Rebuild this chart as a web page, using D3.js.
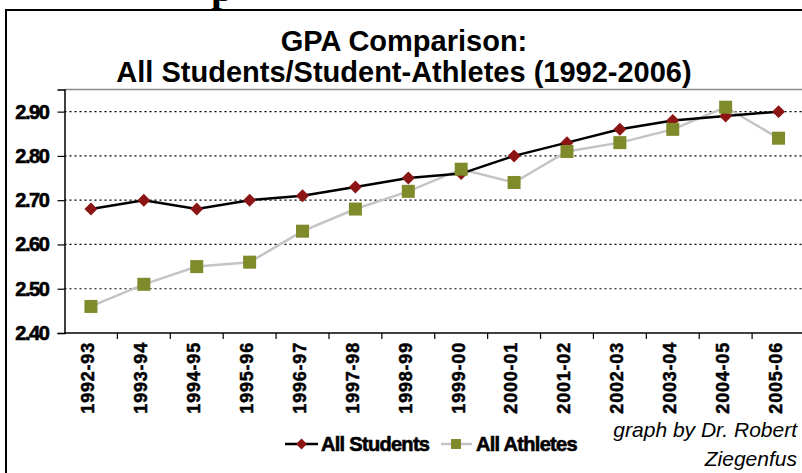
<!DOCTYPE html>
<html>
<head>
<meta charset="utf-8">
<script src="https://cdn.jsdelivr.net/npm/d3@7/dist/d3.min.js"></script>
<style>
  html, body { margin: 0; padding: 0; background: #fff; }
  svg { display: block; font-family: "Liberation Sans", Arial, sans-serif; }
</style>
</head>
<body>
<svg id="chart" width="802" height="473"></svg>
<script>
const categories = ["1992-93","1993-94","1994-95","1995-96","1996-97","1997-98","1998-99","1999-00","2000-01","2001-02","2002-03","2003-04","2004-05","2005-06"];
const allStudents = [2.68, 2.70, 2.68, 2.70, 2.71, 2.73, 2.75, 2.76, 2.80, 2.83, 2.86, 2.88, 2.89, 2.90];
const allAthletes = [2.46, 2.51, 2.55, 2.56, 2.63, 2.68, 2.72, 2.77, 2.74, 2.81, 2.83, 2.86, 2.91, 2.84];
const yTicks = [2.40, 2.50, 2.60, 2.70, 2.80, 2.90];
const titleLines = ["GPA Comparison:", "All Students/Student-Athletes (1992-2006)"];
const seriesNames = ["All Students", "All Athletes"];
const creditLines = ["graph by Dr. Robert", "Ziegenfus"];

(function () {
const svg = d3.select("#chart");

// page fragment above the frame
svg.append("text").attr("x", 211).attr("y", 1)
  .attr("font-family", "Liberation Serif, Times New Roman, serif")
  .attr("font-weight", "bold").attr("font-size", 40).text("p");

// outer frame
svg.append("rect").attr("x", 6).attr("y", 10).attr("width", 900).attr("height", 600)
  .attr("fill", "#fff").attr("stroke", "#000").attr("stroke-width", 2);

// title
svg.append("g").selectAll("text").data(titleLines).join("text")
  .attr("x", 404).attr("y", (d, i) => 51 + i * 31)
  .attr("text-anchor", "middle").attr("font-weight", "bold").attr("font-size", 29)
  .attr("fill", "#000").text(d => d);

const pL = 64.5, pR = 805, pT = 89.5, pB = 333;
const x = d3.scaleBand().domain(categories).range([pL, pR]);
const y = d3.scaleLinear().domain([2.4, 2.95]).range([pB, pT]);
const cx = d => x(d) + x.bandwidth() / 2;

// plot area border
svg.append("line").attr("x1", pL).attr("x2", 802).attr("y1", pT).attr("y2", pT)
  .attr("stroke", "#8c8c8c").attr("stroke-width", 1.5);

// gridlines
svg.append("g").selectAll("line").data(yTicks.filter(v => v > 2.4)).join("line")
  .attr("x1", pL).attr("x2", 802).attr("y1", d => y(d)).attr("y2", d => y(d))
  .attr("stroke", "#000").attr("stroke-width", 1.2).attr("stroke-dasharray", "2,3");

// y axis
const yAxis = svg.append("g").attr("transform", `translate(${pL},0)`)
  .call(d3.axisLeft(y).tickValues(yTicks).tickFormat(d3.format(".2f")).tickSize(7).tickPadding(9));
yAxis.select(".domain").attr("stroke", "#000").attr("stroke-width", 1.5);
yAxis.selectAll(".tick line").attr("stroke", "#000").attr("stroke-width", 1.2);
yAxis.selectAll("text").attr("font-size", 20).attr("font-weight", "bold")
  .attr("letter-spacing", -1.4).attr("fill", "#000")
  .attr("stroke", "#000").attr("stroke-width", 0.6)
  .attr("font-family", "Liberation Sans, Arial, sans-serif");

// x axis with ticks at band boundaries
const xAxis = svg.append("g").attr("transform", `translate(0,${pB})`);
xAxis.append("line").attr("x1", pL).attr("x2", 802).attr("y1", 0).attr("y2", 0)
  .attr("stroke", "#000").attr("stroke-width", 1.5);
xAxis.selectAll(".tk").data(categories).join("line").attr("class", "tk")
  .attr("x1", d => x(d) + x.bandwidth()).attr("x2", d => x(d) + x.bandwidth())
  .attr("y1", 0).attr("y2", 6).attr("stroke", "#000").attr("stroke-width", 1.2);
xAxis.selectAll(".lbl").data(categories).join("text").attr("class", "lbl")
  .attr("transform", d => `translate(${cx(d) - 2},9) rotate(-90)`)
  .attr("text-anchor", "end").attr("dy", "0.3em")
  .attr("font-size", 18).attr("font-weight", "bold").attr("letter-spacing", 0.8)
  .attr("stroke", "#000").attr("stroke-width", 0.5)
  .attr("fill", "#000").text(d => d);

// lines
const line = d3.line().x((d, i) => cx(categories[i])).y(d => y(d));
svg.append("path").datum(allAthletes).attr("d", line)
  .attr("fill", "none").attr("stroke", "#c4c4c4").attr("stroke-width", 2.5);
svg.append("path").datum(allStudents).attr("d", line)
  .attr("fill", "none").attr("stroke", "#000").attr("stroke-width", 2.5);

// markers
const diamond = d3.symbol().type(d3.symbolSquare).size(84);
svg.append("g").selectAll("path").data(allStudents).join("path")
  .attr("d", diamond())
  .attr("transform", (d, i) => `translate(${cx(categories[i])},${y(d)}) rotate(45)`)
  .attr("fill", "#8b1515");
svg.append("g").selectAll("rect").data(allAthletes).join("rect")
  .attr("x", (d, i) => cx(categories[i]) - 6.5).attr("y", d => y(d) - 6.5)
  .attr("width", 13).attr("height", 13).attr("fill", "#7f8a2b");

// legend
const lg = svg.append("g");
const ly = 444;
lg.append("line").attr("x1", 285).attr("x2", 318).attr("y1", ly).attr("y2", ly)
  .attr("stroke", "#000").attr("stroke-width", 2.5);
lg.append("path").attr("d", d3.symbol().type(d3.symbolSquare).size(60)())
  .attr("transform", `translate(301.5,${ly}) rotate(45)`).attr("fill", "#8b1515");
lg.append("text").attr("x", 321).attr("y", ly + 7).attr("font-size", 20)
  .attr("font-weight", "bold").attr("letter-spacing", -0.7)
  .attr("stroke", "#000").attr("stroke-width", 0.6).text(seriesNames[0]);
lg.append("line").attr("x1", 441).attr("x2", 472).attr("y1", ly).attr("y2", ly)
  .attr("stroke", "#c4c4c4").attr("stroke-width", 2.5);
lg.append("rect").attr("x", 451).attr("y", ly - 5).attr("width", 10).attr("height", 10)
  .attr("fill", "#7f8a2b");
lg.append("text").attr("x", 476).attr("y", ly + 7).attr("font-size", 20)
  .attr("font-weight", "bold").attr("letter-spacing", -0.7)
  .attr("stroke", "#000").attr("stroke-width", 0.6).text(seriesNames[1]);

// credit
svg.append("g").selectAll("text").data(creditLines).join("text")
  .attr("x", 797).attr("y", (d, i) => 437 + i * 29)
  .attr("text-anchor", "end").attr("font-style", "italic").attr("font-size", 21)
  .attr("fill", "#000").text(d => d);
})();
</script>
</body>
</html>
